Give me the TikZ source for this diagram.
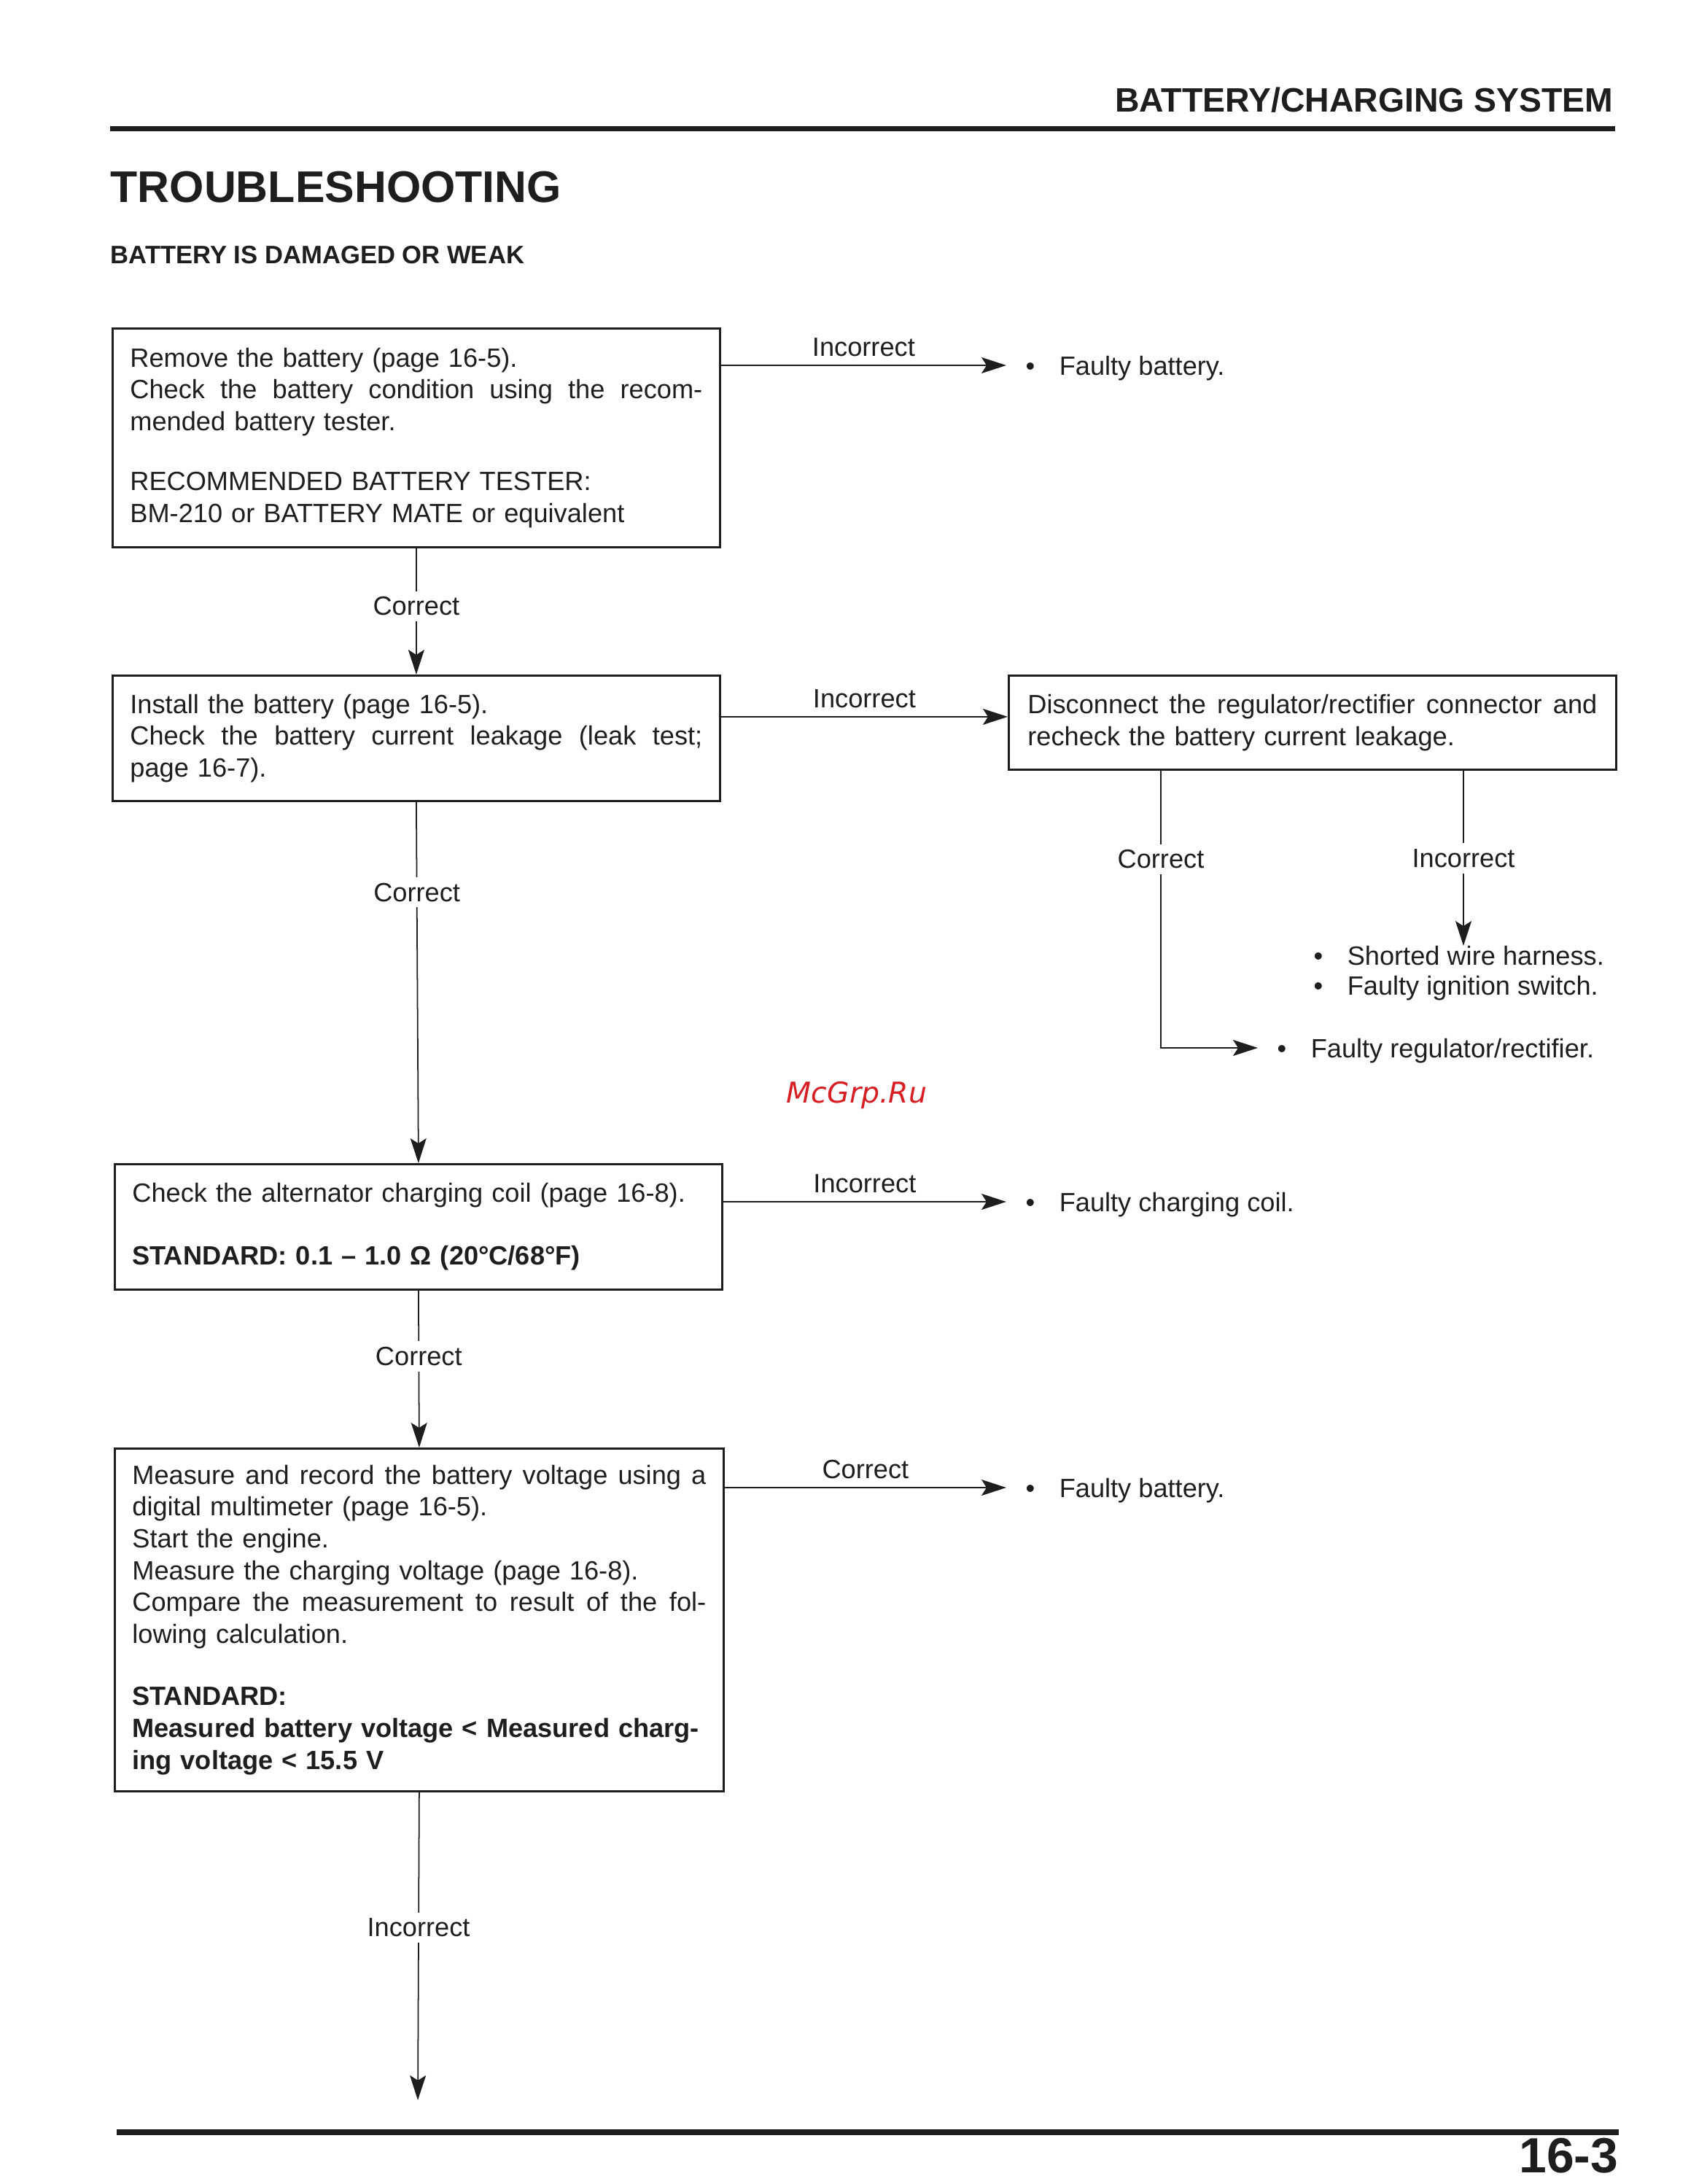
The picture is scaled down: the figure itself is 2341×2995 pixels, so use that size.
\documentclass[tikz,border=0pt]{standalone}
\usepackage{fontspec}
\setmainfont{Liberation Sans}
\newfontfamily\wmfont{DejaVu Sans}
\usetikzlibrary{arrows.meta,calc}
\definecolor{ink}{RGB}{30,30,30}
\definecolor{wmred}{RGB}{215,30,35}
\newcommand\bxfont{\fontsize{10.3pt}{12.4pt}\selectfont}
\newcommand\rsfont{\fontsize{10.3pt}{11.4pt}\selectfont}
\newcommand\jline[1]{\makebox[\hsize][l]{#1}}
\begin{document}
\begin{tikzpicture}[x=0.1mm,y=-0.1mm,
  box/.style={draw=ink, line width=0.8pt, anchor=north west, inner xsep=2.4mm, inner ysep=0pt, align=left, font=\bxfont, text=ink},
  conn/.style={draw=ink, line width=0.5pt, -{Stealth[length=3.4mm,width=2.2mm,inset=0.7mm]}},
  vlab/.style={font=\bxfont, text=ink, fill=white, inner xsep=0.5mm, inner ysep=0.8mm},
  hlab/.style={font=\bxfont, text=ink, above, inner sep=1.1mm},
  res/.style={font=\bxfont, text=ink, anchor=west, inner xsep=2.6mm, inner ysep=0pt, text height=7.5pt, text depth=0pt},
  rulebar/.style={draw=ink, line width=2pt}
]
\useasboundingbox (0,0) rectangle (2341,2995);

% header
\node[anchor=base east, inner sep=0, text=ink, font=\bfseries\fontsize{13.2pt}{16pt}\selectfont] (hdr) at (2213,153) {BATTERY/CHARGING SYSTEM};
\draw[rulebar] (151,176) -- (2215,176);
\node[anchor=base west, inner sep=0, text=ink, font=\bfseries\fontsize{17.3pt}{20pt}\selectfont] (title) at (151,277) {TROUBLESHOOTING};
\node[anchor=base west, inner sep=0, text=ink, font=\bfseries\fontsize{9.85pt}{12pt}\selectfont] (sub) at (151,361) {BATTERY IS DAMAGED OR WEAK};

% boxes
\node[box, text width=78.5mm, minimum width=83.3mm, minimum height=30mm] (b1) at (153,449) {Remove the battery (page 16-5).\\
\jline{Check\hfill the\hfill battery\hfill condition\hfill using\hfill the\hfill recom-}\\
mended battery tester.\\[11pt]
RECOMMENDED BATTERY TESTER:\\
BM-210 or BATTERY MATE or equivalent};

\node[box, text width=78.5mm, minimum width=83.3mm, minimum height=17.2mm] (b2) at (153,925) {Install the battery (page 16-5).\\
\jline{Check\hfill the\hfill battery\hfill current\hfill leakage\hfill (leak\hfill test;}\\
page 16-7).};

\node[box, inner xsep=2.6mm, text width=78.1mm, minimum width=83.3mm, minimum height=12.9mm] (b3) at (1382,925) {\jline{Disconnect\hfill the\hfill regulator/rectifier\hfill connector\hfill and}\\
recheck the battery current leakage.};

\node[box, text width=78.5mm, minimum width=83.3mm, minimum height=17.2mm] (b4) at (156,1595) {Check the alternator charging coil (page 16-8).\\[12pt]
\textbf{STANDARD: 0.1 – 1.0 Ω (20°C/68°F)}};

\node[box, text width=78.7mm, minimum width=83.5mm, minimum height=47mm] (b5) at (156,1985) {\jline{Measure\hfill and\hfill record\hfill the\hfill battery\hfill voltage\hfill using\hfill a}\\
digital multimeter (page 16-5).\\
Start the engine.\\
Measure the charging voltage (page 16-8).\\
\jline{Compare\hfill the\hfill measurement\hfill to\hfill result\hfill of\hfill the\hfill fol-}\\
lowing calculation.\\[12pt]
\textbf{STANDARD:}\\
\textbf{Measured battery voltage < Measured charg-}\\
\textbf{ing voltage < 15.5 V}};

% results
\node[res] (r1) at (1380,501) {\textbullet\hspace{9.5pt}Faulty battery.};
\node[res] (r2) at (1380,1648) {\textbullet\hspace{9.5pt}Faulty charging coil.};
\node[res] (r5) at (1380,2040) {\textbullet\hspace{9.5pt}Faulty battery.};
\node[res] (r4) at (1725,1437) {\textbullet\hspace{9.5pt}Faulty regulator/rectifier.};
\node[anchor=north west, inner sep=0, align=left, font=\rsfont, text=ink] (r3) at (1801,1297) {\textbullet\hspace{9.5pt}Shorted wire harness.\\
\textbullet\hspace{9.5pt}Faulty ignition switch.};

% watermark
\node[anchor=base, inner sep=0, text=wmred, font=\wmfont\itshape\fontsize{11.2pt}{13pt}\selectfont] (wm) at (1175,1512) {McGrp.Ru};

% connectors
\draw[conn] (b1.east |- r1.west) -- node[hlab]{Incorrect} (r1.west);
\draw[conn] (b1.south) -- node[vlab,pos=0.46]{Correct} (b2.north);
\draw[conn] ([yshift=0.8mm]b3.west -| b2.east) -- node[hlab]{Incorrect} ([yshift=0.8mm]b3.west);
\coordinate (b3c) at ($(b3.south west)+(210,0)$);
\coordinate (b3i) at ($(b3.south west)+(625,0)$);
\draw[conn] (b3c) |- node[vlab,pos=0.16]{Correct} (r4.west);
\draw[conn] (b3i) -- node[vlab,pos=0.5]{Incorrect} (b3i |- r3.north);
\draw[conn] (b2.south) -- node[vlab,pos=0.25]{Correct} (b4.north);
\draw[conn] (b4.east |- r2.west) -- node[hlab]{Incorrect} (r2.west);
\draw[conn] (b4.south) -- node[vlab,pos=0.42]{Correct} (b5.north);
\draw[conn] (b5.east |- r5.west) -- node[hlab]{Correct} (r5.west);
\coordinate (endp) at (573,2880);
\draw[conn] (b5.south) -- node[vlab,pos=0.44]{Incorrect} (endp);

% footer
\draw[rulebar, line width=2.4pt] (160,2924) -- (2220,2924);
\node[anchor=base east, inner sep=0, text=ink, font=\bfseries\fontsize{19.3pt}{22pt}\selectfont] (pg) at (2220,2979) {16-3};
\end{tikzpicture}
\end{document}
